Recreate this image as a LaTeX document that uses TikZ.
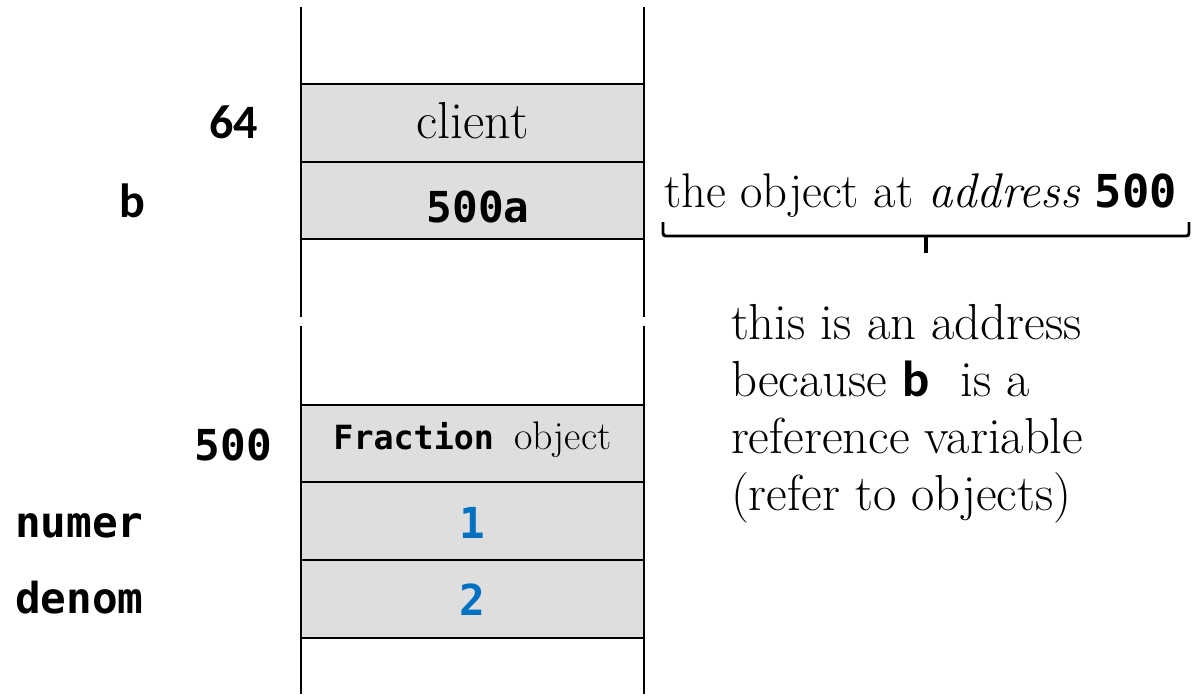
\documentclass[tikz,border=0pt]{standalone}
\usepackage{fontspec}
\newfontfamily\codefont{DejaVu Sans Mono}
\newfontfamily\labelfont{Carlito}
\definecolor{cellgray}{RGB}{222,222,222}
\definecolor{valblue}{RGB}{0,112,192}
\begin{document}
\begin{tikzpicture}[x=0.75pt,y=-0.75pt,
  cell/.style={draw=black, fill=cellgray, line width=1.8pt,
    minimum width=257.25pt, minimum height=58.1pt, inner sep=0pt, outer sep=0pt},
  txt/.style={inner sep=0pt, outer sep=0pt, anchor=base},
  serif/.style={font=\fontsize{38}{46}\selectfont},
  code/.style={font=\codefont\bfseries\fontsize{32}{38}\selectfont},
  varname/.style={font=\labelfont\bfseries\fontsize{36}{43}\selectfont},
  wall/.style={line width=1.8pt},
  bracket/.style={line width=2.2pt, rounded corners=2pt},
]
\useasboundingbox (0,0) rectangle (1192,694);

% memory cells
\node[cell] (clientcell) at (472.5,123) {};
\node[cell] (refcell) at (472.5,200.5) {};
\node[cell] (objcell) at (472.5,443.5) {};
\node[cell] (numcell) at (472.5,521) {};
\node[cell] (dencell) at (472.5,599) {};

% side walls of the two memory segments
\coordinate (lt1) at (301,7);   \coordinate (lb1) at (301,317);
\coordinate (rt1) at (644,7);   \coordinate (rb1) at (644,317);
\coordinate (lt2) at (301,326); \coordinate (lb2) at (301,694);
\coordinate (rt2) at (644,326); \coordinate (rb2) at (644,694);
\draw[wall] (lt1) -- (lb1);
\draw[wall] (rt1) -- (rb1);
\draw[wall] (lt2) -- (lb2);
\draw[wall] (rt2) -- (rb2);

% cell contents
\node[txt, font=\fontsize{39}{46}\selectfont] (clienttxt) at (472.5,138) {client};
\node[txt, code] (reftxt) at (478,222) {500a};
\node[txt, font=\fontsize{30}{36}\selectfont] (objtxt) at (472.5,449)
  {{\codefont\bfseries\fontsize{25}{30}\selectfont Fraction}\hspace{15pt}object};
\node[txt, code, text=valblue] (numtxt) at (472.5,538) {1};
\node[txt, code, text=valblue] (dentxt) at (472.5,615) {2};

% addresses and variable names
\node[txt, varname, anchor=base east] (addr64) at (258,138) {64};
\node[txt, varname, anchor=base west] (bname) at (119,217) {b};
\node[txt, code, anchor=base east] (addr500) at (272,460) {500};
\node[txt, code, anchor=base west] (numername) at (15,537) {numer};
\node[txt, code, anchor=base west] (denomname) at (15,613) {denom};

% note above the bracket
\node[txt, anchor=base west, font=\fontsize{36.5}{44}\selectfont] (objnote) at (664,207)
  {the object at \textit{address} {\codefont\bfseries\fontsize{34}{40}\selectfont 500}};

% bracket
\coordinate (brl) at (663,222);
\coordinate (brlc) at (663,236);
\coordinate (brrc) at (1189,236);
\coordinate (brr) at (1189,222);
\coordinate (brm) at (926,236);
\coordinate (brtip) at (926,253);
\draw[bracket] (brl) -- (brlc) -- (brrc) -- (brr);
\draw[line width=2.6pt] (brm) -- (brtip);

% explanation
\node[txt, serif, anchor=base west] (note1) at (731,339) {this is an address};
\node[txt, serif, anchor=base west] (note2) at (731,396)
  {because {\labelfont\bfseries b}\ \ is a};
\node[txt, serif, anchor=base west] (note3) at (731,453) {reference variable};
\node[txt, serif, anchor=base west] (note4) at (731,510) {(refer to objects)};
\end{tikzpicture}
\end{document}
